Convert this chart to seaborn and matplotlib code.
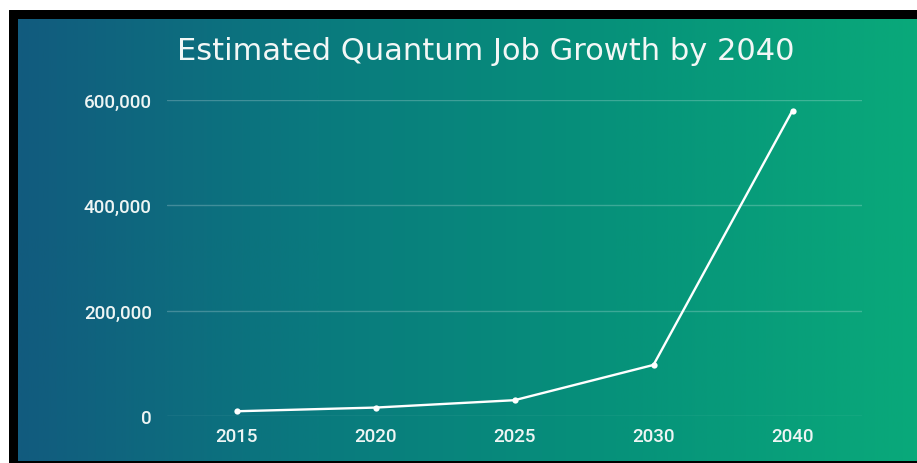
import numpy as np
import pandas as pd
import matplotlib
matplotlib.use("Agg")
import matplotlib.pyplot as plt
import matplotlib.patches as mpatches
from matplotlib.colors import LinearSegmentedColormap
from matplotlib.ticker import FuncFormatter
import seaborn as sns

# Data
years = ["2015", "2020", "2025", "2030", "2040"]
jobs = [9000, 16000, 30000, 97000, 580000]
y_ticks = [0, 200000, 400000, 600000]
title = "Estimated Quantum Job Growth by 2040"

sns.set_theme(style="white")
plt.rcParams["font.family"] = ["DejaVu Sans"]

W, H = 917, 464
fig = plt.figure(figsize=(W / 100, H / 100), dpi=100, facecolor="white")

def px_rect(x0, y0, x1, y1):
    """Convert a pixel box (top-left origin) to figure fractions."""
    return [x0 / W, 1 - y1 / H, (x1 - x0) / W, (y1 - y0) / H]

# Black frame behind the panel
frame = fig.add_axes(px_rect(9, 11, W, H))
frame.set_axis_off()
frame.add_patch(mpatches.Rectangle((0, 0), 1, 1, color="black", transform=frame.transAxes))

# Horizontal gradient panel, blue on the left to green on the right
bg = fig.add_axes(px_rect(18, 20, W, 462))
bg.set_axis_off()
cmap = LinearSegmentedColormap.from_list(
    "panel", ["#125b7e", "#0a7a7e", "#06927a", "#0aa97a"])
grad = np.linspace(0, 1, 512).reshape(1, -1)
bg.imshow(grad, aspect="auto", cmap=cmap, extent=[0, 1, 0, 1])
bg.set_xlim(0, 1)
bg.set_ylim(0, 1)

# Chart area
ax = fig.add_axes(px_rect(167, 101, 862, 417))
ax.patch.set_alpha(0)
df = pd.DataFrame({"year": years, "jobs": jobs})
sns.lineplot(data=df, x="year", y="jobs", ax=ax, color="white", linewidth=1.7,
             marker="o", markersize=4.5, markeredgewidth=0, sort=False, zorder=3)

ax.set_xlim(-0.5, len(years) - 0.5)
ax.set_ylim(0, 600000)
ax.set_yticks(y_ticks)
ax.yaxis.set_major_formatter(FuncFormatter(lambda v, p: f"{int(v):,}"))
ax.set_xlabel("")
ax.set_ylabel("")
for s in ax.spines.values():
    s.set_visible(False)
ax.grid(axis="y", color="white", alpha=0.22, linewidth=1)
ax.grid(axis="x", visible=False)
ax.set_axisbelow(True)
ax.tick_params(axis="both", length=0, colors="#eef5f4")
ax.tick_params(axis="y", pad=11)
ax.tick_params(axis="x", pad=8)
for lab in ax.get_xticklabels() + ax.get_yticklabels():
    lab.set_fontfamily("Roboto")
    lab.set_fontsize(13.5)
    lab.set_fontweight("medium")

fig.text(486 / W, 1 - 51 / H, title, ha="center", va="center",
         color="#f2f7f6", fontsize=22, fontfamily="DejaVu Sans")

fig.savefig("out.png", dpi=100, facecolor="white")
